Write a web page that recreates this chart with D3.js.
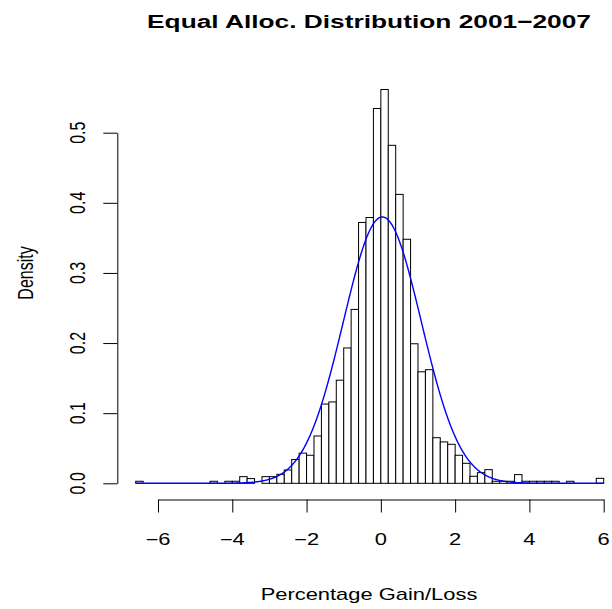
<!DOCTYPE html>
<html>
<head>
<meta charset="utf-8">
<script src="https://cdn.jsdelivr.net/npm/d3@7"></script>
<style>
  body { margin: 0; background: #fff; }
  svg text { font-family: "Liberation Sans", Arial, Helvetica, sans-serif; fill: #000; }
</style>
</head>
<body>
<svg id="chart" width="612" height="609"></svg>
<script>
// histogram breaks (bin width 0.2 starting at -6.6)
const BREAK_START = -6.6;
const BIN_WIDTH = 0.2;

// density of each bin
const densities = [
  0.0029, 0, 0, 0, 0, 0, 0, 0, 0, 0,
  0.0029, 0, 0.0029, 0.0029, 0.0095, 0.0067, 0, 0.0095, 0.0095, 0.0128,
  0.019, 0.034, 0.043, 0.040, 0.0675, 0.113, 0.116, 0.147, 0.193, 0.248,
  0.372, 0.379, 0.5345, 0.5616, 0.482, 0.412, 0.348, 0.199, 0.159, 0.162,
  0.065, 0.059, 0.0556, 0.040, 0.0285, 0.010, 0.0152, 0.0195, 0.0029, 0.0029,
  0.0029, 0.0124, 0.0029, 0.0029, 0.0029, 0.0029, 0.0029, 0, 0.0029, 0,
  0, 0, 0.0071
];

// fitted normal curve
const NORM_MEAN = 0.04;
const NORM_SD = 1.05;

const xTicks = [-6, -4, -2, 0, 2, 4, 6];
const yTicks = [0, 0.1, 0.2, 0.3, 0.4, 0.5];

const TITLE = "Equal Alloc. Distribution 2001\u22122007";
const X_LABEL = "Percentage Gain/Loss";
const Y_LABEL = "Density";

// text in the picture is wider than it is tall
const SX = 1.37;
const FONT = 16;

const svg = d3.select("#chart");

const x = d3.scaleLinear().domain([-6, 6]).range([158, 603.7]);
const y = d3.scaleLinear().domain([0, 0.5]).range([483.3, 132.7]);

const bins = densities.map((d, i) => ({
  x0: BREAK_START + i * BIN_WIDTH,
  x1: BREAK_START + (i + 1) * BIN_WIDTH,
  density: d,
}));

svg.append("g")
  .selectAll("rect")
  .data(bins)
  .join("rect")
  .attr("x", (d) => x(d.x0))
  .attr("y", (d) => y(d.density))
  .attr("width", (d) => x(d.x1) - x(d.x0))
  .attr("height", (d) => y(0) - y(d.density))
  .attr("fill", "#fff")
  .attr("stroke", "#000")
  .attr("stroke-width", 1);

// normal density over the data range
const curveX = d3.range(0, 631).map((k) => BREAK_START + k * 0.02);
const dnorm = (v) =>
  Math.exp(-0.5 * ((v - NORM_MEAN) / NORM_SD) ** 2) / (NORM_SD * Math.sqrt(2 * Math.PI));

svg.append("path")
  .datum(curveX)
  .attr("fill", "none")
  .attr("stroke", "#0000ff")
  .attr("stroke-width", 1.4)
  .attr("d", d3.line().x((d) => x(d)).y((d) => y(dnorm(d))));

// axes (R style: no outer ticks, line spans first to last tick)
const xAxis = svg.append("g")
  .attr("transform", "translate(0,499.5)")
  .call(d3.axisBottom(x).tickValues(xTicks).tickSize(13).tickSizeOuter(0).tickFormat(""));

const yAxis = svg.append("g")
  .attr("transform", "translate(117.3,0)")
  .call(d3.axisLeft(y).tickValues(yTicks).tickSize(14).tickSizeOuter(0).tickFormat(""));

svg.selectAll(".domain, .tick line").attr("stroke", "#000").attr("stroke-width", 1);

const fmtX = d3.format("d");
svg.append("g")
  .selectAll("text")
  .data(xTicks)
  .join("text")
  .attr("text-anchor", "middle")
  .attr("font-size", FONT)
  .attr("transform", (d) => `translate(${x(d)},545) scale(${SX},1)`)
  .text((d) => fmtX(d));

svg.append("g")
  .selectAll("text")
  .data(yTicks)
  .join("text")
  .attr("text-anchor", "middle")
  .attr("font-size", FONT)
  .attr("transform", (d) => `translate(85,${y(d)}) scale(${SX},1) rotate(-90)`)
  .text((d) => d3.format(".1f")(d));

svg.append("text")
  .attr("text-anchor", "middle")
  .attr("font-size", FONT)
  .attr("transform", `translate(369,600) scale(${SX},1)`)
  .text(X_LABEL);

svg.append("text")
  .attr("text-anchor", "middle")
  .attr("font-size", FONT)
  .attr("transform", `translate(33,273) scale(${SX},1) rotate(-90)`)
  .text(Y_LABEL);

svg.append("text")
  .attr("text-anchor", "middle")
  .attr("font-size", FONT * 1.2)
  .attr("font-weight", "bold")
  .attr("transform", `translate(369,28) scale(${SX},1)`)
  .text(TITLE);
</script>
</body>
</html>
